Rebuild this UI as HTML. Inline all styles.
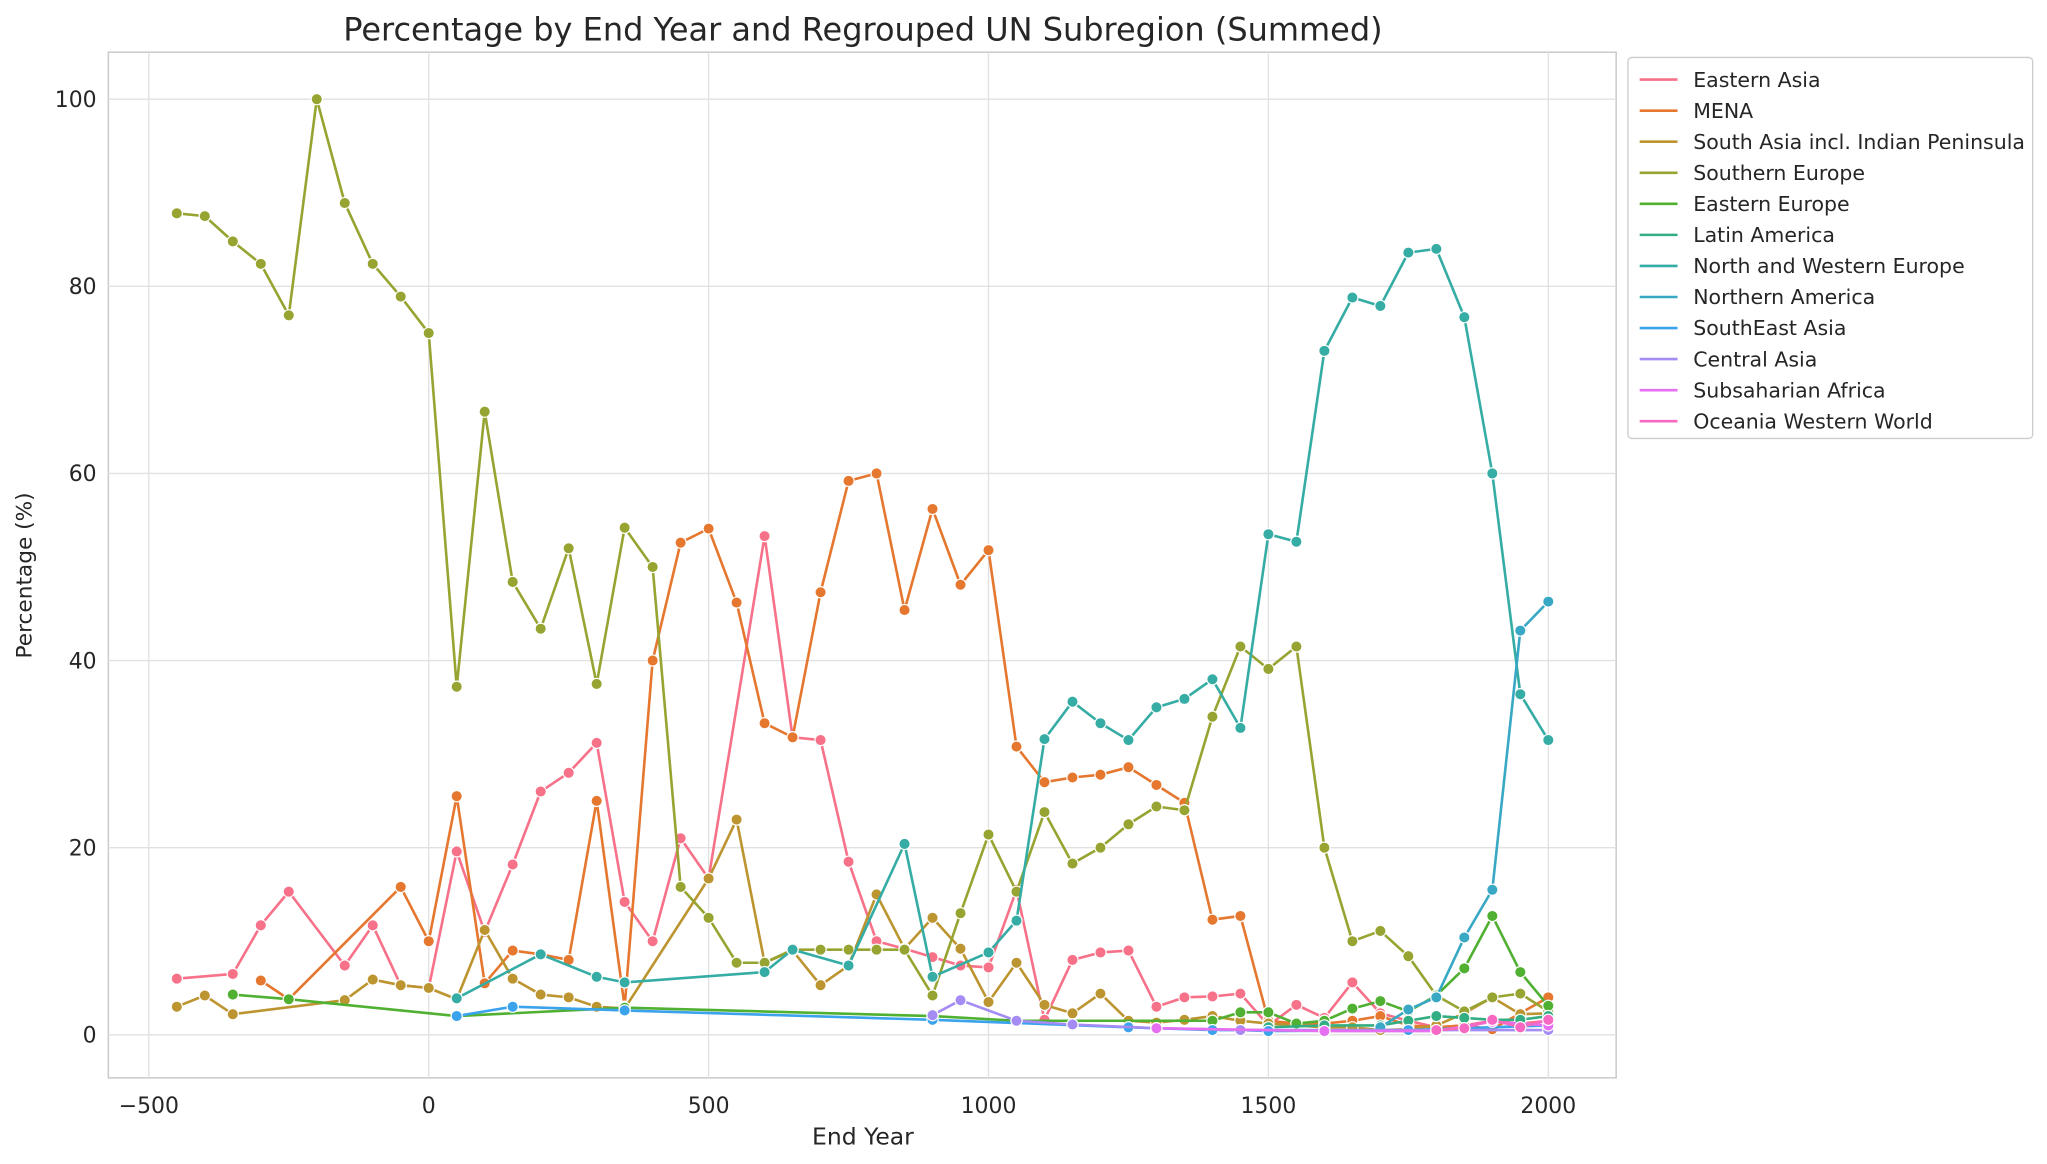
<!DOCTYPE html>
<html><head><meta charset="utf-8"><style>
html,body{margin:0;padding:0;background:#fff;overflow:hidden}
#wrap{width:1568px;height:892px;transform:scale(1.30548,1.3049);transform-origin:0 0;position:relative}
svg text{font-family:"DejaVu Sans","Liberation Sans",sans-serif;fill:#262626}
</style></head><body><div id="wrap">
<svg id="s" width="1568" height="892" xmlns="http://www.w3.org/2000/svg">
<rect x="83" y="40" width="1155" height="786" fill="#fff" stroke="#cccccc" stroke-width="1.2"/>
<g id="grid" stroke="#e1e1e1" stroke-width="1"></g>
<g id="series"></g>
<text x="661" y="31" font-size="24.5" text-anchor="middle">Percentage by End Year and Regrouped UN Subregion (Summed)</text>
<g id="ticks" font-size="16.8"></g>
<text x="661" y="877" font-size="18" text-anchor="middle">End Year</text>
<text x="24" y="441" font-size="16.6" text-anchor="middle" transform="rotate(-90 24 441)">Percentage (%)</text>
<g id="legend" font-size="15.7"><rect x="1247" y="44" width="310" height="292" rx="3" fill="#fff" stroke="#cccccc"/></g>
</svg></div>
<script>
const X=y=>114+(y+500)*0.4288, Y=v=>793-7.17*v;
const ns="http://www.w3.org/2000/svg";
function el(p,t,a,txt){const e=document.createElementNS(ns,t);for(const k in a)e.setAttribute(k,a[k]);if(txt!==undefined)e.textContent=txt;p.appendChild(e);return e;}
const G=document.getElementById('grid'),T=document.getElementById('ticks');
for(const yr of [-500,0,500,1000,1500,2000]){el(G,'line',{x1:X(yr),x2:X(yr),y1:40,y2:826});el(T,'text',{x:X(yr),y:853,'text-anchor':'middle'},yr<0?'\u2212'+(-yr):yr);}
for(const v of [0,20,40,60,80,100]){el(G,'line',{x1:83,x2:1238,y1:Y(v),y2:Y(v)});el(T,'text',{x:74,y:Y(v)+6,'text-anchor':'end'},v);}
const D=[
["Eastern Asia","#f77189",[[-450,6],[-350,6.5],[-300,11.7],[-250,15.3],[-150,7.4],[-100,11.7],[-50,5.3],[0,5],[50,19.6],[100,11],[150,18.2],[200,26],[250,28],[300,31.2],[350,14.2],[400,10],[450,21],[500,16.7],[600,53.3],[650,31.8],[700,31.5],[750,18.5],[800,10],[850,9.2],[900,8.3],[950,7.4],[1000,7.2],[1050,15.5],[1100,1.6],[1150,8],[1200,8.8],[1250,9],[1300,3],[1350,4],[1400,4.1],[1450,4.4],[1500,1],[1550,3.2],[1600,1.8],[1650,5.6],[1700,2.3],[1750,1.5],[1800,0.8],[1850,1],[1900,1.5],[1950,1.2],[2000,1.5]]],
["MENA","#e5772f",[[-300,5.8],[-250,3.8],[-50,15.8],[0,10],[50,25.5],[100,5.5],[150,9],[200,8.6],[250,8],[300,25],[350,3],[400,40],[450,52.6],[500,54.1],[550,46.2],[600,33.3],[650,31.8],[700,47.3],[750,59.2],[800,60],[850,45.4],[900,56.2],[950,48.1],[1000,51.8],[1050,30.8],[1100,27],[1150,27.5],[1200,27.8],[1250,28.6],[1300,26.7],[1350,24.8],[1400,12.3],[1450,12.7],[1500,1.5],[1550,1.2],[1600,1.2],[1650,1.5],[1700,2],[1750,1],[1800,0.8],[1850,1],[1900,0.6],[1950,2.3],[2000,4]]],
["South Asia incl. Indian Peninsula","#bc9530",[[-450,3],[-400,4.2],[-350,2.2],[-150,3.7],[-100,5.9],[-50,5.3],[0,5],[50,3.8],[100,11.2],[150,6],[200,4.3],[250,4],[300,3],[350,2.8],[500,16.7],[550,23],[600,7.7],[650,9],[700,5.3],[750,7.4],[800,15],[850,9.2],[900,12.5],[950,9.2],[1000,3.5],[1050,7.7],[1100,3.2],[1150,2.3],[1200,4.4],[1250,1.5],[1300,1.3],[1350,1.6],[1400,2],[1450,1.5],[1500,1.2],[1600,0.8],[1650,0.8],[1700,0.5],[1750,0.6],[1800,1],[1850,2.3],[1900,4],[1950,2.2],[2000,2.3]]],
["Southern Europe","#97a431",[[-450,87.8],[-400,87.5],[-350,84.8],[-300,82.4],[-250,76.9],[-200,100],[-150,88.9],[-100,82.4],[-50,78.9],[0,75],[50,37.2],[100,66.6],[150,48.4],[200,43.4],[250,52],[300,37.5],[350,54.2],[400,50],[450,15.8],[500,12.5],[550,7.7],[600,7.7],[650,9.1],[700,9.1],[750,9.1],[800,9.1],[850,9.1],[900,4.2],[950,13],[1000,21.4],[1050,15.3],[1100,23.8],[1150,18.3],[1200,20],[1250,22.5],[1300,24.4],[1350,24],[1400,34],[1450,41.5],[1500,39.1],[1550,41.5],[1600,20],[1650,10],[1700,11.1],[1750,8.4],[1800,4.2],[1850,2.5],[1900,4],[1950,4.4],[2000,2.5]]],
["Eastern Europe","#4fb031",[[-350,4.3],[-250,3.8],[50,2],[350,2.9],[900,2],[1050,1.5],[1400,1.5],[1450,2.4],[1500,2.4],[1550,1.2],[1600,1.5],[1650,2.8],[1700,3.6],[1750,2.5],[1800,4.2],[1850,7.1],[1900,12.7],[1950,6.7],[2000,3.1]]],
["Latin America","#33ae83",[[1500,0.8],[1600,1],[1700,1],[1750,1.5],[1800,2],[1850,1.8],[1900,1.6],[1950,1.6],[2000,2]]],
["North and Western Europe","#35aca4",[[50,3.9],[200,8.6],[300,6.2],[350,5.6],[600,6.7],[650,9.1],[750,7.4],[850,20.4],[900,6.2],[1000,8.8],[1050,12.2],[1100,31.6],[1150,35.6],[1200,33.3],[1250,31.5],[1300,35],[1350,35.9],[1400,38],[1450,32.8],[1500,53.5],[1550,52.7],[1600,73.1],[1650,78.8],[1700,77.9],[1750,83.6],[1800,84],[1850,76.7],[1900,60],[1950,36.4],[2000,31.5]]],
["Northern America","#38a8c4",[[1700,0.8],[1750,2.7],[1800,4],[1850,10.4],[1900,15.5],[1950,43.2],[2000,46.3]]],
["SouthEast Asia","#3ba3ec",[[50,2],[150,3],[350,2.6],[900,1.6],[1250,0.8],[1400,0.5],[1450,0.5],[1500,0.4],[1750,0.5],[2000,1]]],
["Central Asia","#a48cf4",[[900,2.1],[950,3.7],[1050,1.5],[1150,1.1],[1300,0.7],[1450,0.5],[2000,0.5]]],
["Subsaharian Africa","#e56ff0",[[1300,0.7],[1600,0.4],[1800,0.4],[1900,1.4],[2000,1]]],
["Oceania Western World","#f668c2",[[1800,0.5],[1850,0.7],[1900,1.6],[1950,0.8],[2000,1.6]]]
];
const S=document.getElementById('series'),L=document.getElementById('legend');
D.forEach((d,i)=>{
 el(S,'polyline',{points:d[2].map(p=>X(p[0])+','+Y(p[1])).join(' '),fill:'none',stroke:d[1],'stroke-width':2,'stroke-linejoin':'round'});
 d[2].forEach(p=>el(S,'circle',{cx:X(p[0]),cy:Y(p[1]),r:4.3,fill:d[1],stroke:'#fff','stroke-width':0.9}));
 const y=61+i*23.8;
 el(L,'line',{x1:1256,x2:1285,y1:y,y2:y,stroke:d[1],'stroke-width':2});
 el(L,'text',{x:1297,y:y+5.5},d[0]);
});
</script></body></html>
